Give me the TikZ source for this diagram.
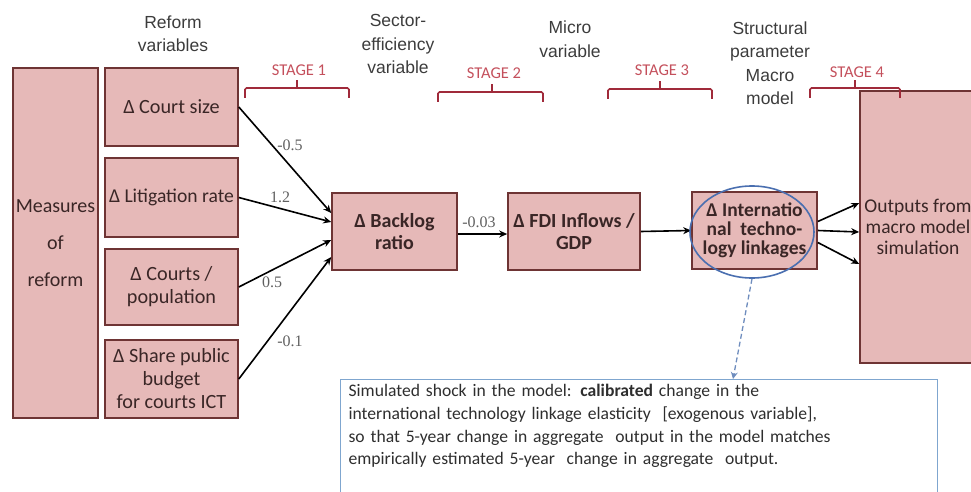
\documentclass[tikz,border=0pt]{standalone}
\usepackage{fontspec}
\setmainfont{Carlito}
\newfontfamily\headfont{Liberation Sans}
\newfontfamily\numfont{Liberation Serif}
\usetikzlibrary{arrows.meta,shapes.geometric}

\definecolor{boxfill}{HTML}{E6B9B8}
\definecolor{boxline}{HTML}{6E3434}
\definecolor{boxtext}{HTML}{3A2626}
\definecolor{headgray}{HTML}{3C3C3C}
\definecolor{stagered}{HTML}{A02A3A}
\definecolor{stagetext}{HTML}{C4505C}
\definecolor{ringblue}{HTML}{4A6FB0}
\definecolor{linkblue}{HTML}{6F8DBE}
\definecolor{notebox}{HTML}{7FA6CF}
\definecolor{notetext}{HTML}{2E2E2E}

\tikzset{
  varbox/.style={draw=boxline, fill=boxfill, line width=1.6pt, inner sep=1pt,
    text=boxtext, align=center, font=\fontsize{20.2}{23}\selectfont},
  keybox/.style={varbox, font=\bfseries\fontsize{20}{22}\selectfont},
  head/.style={text=headgray, align=center, font=\headfont\fontsize{17.5}{23.5}\selectfont},
  weight/.style={text=gray!75!black, font=\numfont\fontsize{16}{17}\selectfont, inner sep=0pt},
  flow/.style={line width=1.6pt, -{Stealth[length=8pt,width=7pt]}},
  brace/.style={draw=stagered, line width=1.6pt, rounded corners=1.5pt},
  stagelabel/.style={text=stagetext, font=\fontsize{16.5}{18}\selectfont, inner sep=0pt},
}

% horizontal stage bracket: left x, right x, bar y, tick x
\newcommand\stagebrace[4]{%
  \draw[brace] ({#1},{#3+10}) -- ({#1},{#3}) -- ({#2},{#3}) -- ({#2},{#3+10});
  \draw[brace] ({#4},{#3}) -- ({#4},{#3-8});
}

\begin{document}
\begin{tikzpicture}[x=1pt,y=-1pt]
\useasboundingbox (0,0) rectangle (971,492);

% column headings
\node[head] (hReform) at (173,34) {Reform\\variables};
\node[head] (hSector) at (398,44) {Sector-\\efficiency\\variable};
\node[head] (hMicro) at (570,39) {Micro\\variable};
\node[head] (hMacro) at (770,63) {Structural\\parameter\\Macro\\model};

% stage brackets
\stagebrace{245}{349}{88}{297}
\node[stagelabel] (s1) at (299,70) {STAGE 1};
\stagebrace{438}{543}{92}{492}
\node[stagelabel] (s2) at (494,73) {STAGE 2};
\stagebrace{608}{712}{89}{660}
\node[stagelabel] (s3) at (662,70) {STAGE 3};

% outputs box (drawn before stage 4 bracket, which overlaps it)
\node[varbox, minimum width=116pt, minimum height=272pt, font=\fontsize{19.5}{21}\selectfont,
      text depth=0pt] (out) at (918,227) {Outputs from\\macro model\\simulation};
\stagebrace{810}{900}{88}{855}
\node[stagelabel] (s4) at (857,72) {STAGE 4};

% reform measures
\node[varbox, minimum width=85pt, minimum height=350pt, font=\fontsize{20}{37}\selectfont]
  (measures) at (55.5,243) {Measures\\of\\reform};
\node[varbox, minimum width=133pt, minimum height=78pt] (court) at (171.5,107) {Δ Court size};
\node[varbox, minimum width=133pt, minimum height=79pt, font=\fontsize{19.6}{23}\selectfont]
  (litig) at (171.5,197.5) {Δ Litigation rate};
\node[varbox, minimum width=133pt, minimum height=76pt] (cpop) at (171.5,287) {Δ Courts /\\population};
\node[varbox, minimum width=133pt, minimum height=78pt] (share) at (171.5,379) {Δ Share public\\budget\\for courts ICT};

% chain of effects
\node[keybox, minimum width=125pt, minimum height=77pt] (backlog) at (394.5,231.5) {Δ Backlog\\ratio};
\node[keybox, minimum width=132pt, minimum height=77pt] (fdi) at (574,231.5) {Δ FDI Inflows /\\GDP};
\node[keybox, minimum width=125pt, minimum height=77pt, inner sep=0pt,
      font=\bfseries\fontsize{19.5}{19}\selectfont] (intl) at (754.5,230.5)
      {Δ Internatio\\nal\ \ techno-\\logy linkages};

% weighted links into the backlog ratio
\draw[flow] (court.east) -- ([yshift=18.5pt]backlog.west);
\draw[flow] (litig.east) -- ([yshift=9.5pt]backlog.west);
\draw[flow] (cpop.east) -- ([yshift=-8.5pt]backlog.west);
\draw[flow] (share.east) -- ([yshift=-25.5pt]backlog.west);
\node[weight] (w1) at (290,145) {-0.5};
\node[weight] (w2) at (280,197) {1.2};
\node[weight] (w3) at (272,282) {0.5};
\node[weight] (w4) at (290,341) {-0.1};

\draw[flow] ([yshift=-2.5pt]backlog.east) -- ([yshift=-2.5pt]fdi.west);
\node[weight] (w5) at (479,222) {-0.03};
\draw[flow] (fdi.east) -- (intl.west);

% links into the macro model
\draw[flow] ([yshift=9pt]intl.east) -- ([yshift=24pt]out.west);
\draw[flow] (intl.east) -- ([yshift=-5pt]out.west);
\draw[flow] ([yshift=-12pt]intl.east) -- ([yshift=-37pt]out.west);

% highlighted parameter and its explanation
\node[draw=ringblue, ellipse, line width=1.6pt, minimum width=124pt, minimum height=92pt]
  (ring) at (752,232) {};
\node[draw=notebox, line width=1.2pt, anchor=north west, inner xsep=8pt, inner ysep=5pt,
      minimum width=597pt, minimum height=130pt, text width=581pt, align=left, text=notetext,
      font=\fontsize{17.6}{22.6}\selectfont] (note) at (340,379)
  {Simulated shock in the model: \textbf{calibrated} change in the\\
   international technology linkage elasticity\ \ [exogenous variable],\\
   so that 5-year change in aggregate\ \ output in the model matches\\
   empirically estimated 5-year\ \ change in aggregate\ \ output.\par\vspace*{40pt}};
\coordinate (notetip) at (733,379);
\draw[draw=linkblue, line width=1.3pt, dash pattern=on 5pt off 3pt,
      -{Stealth[length=7pt,width=7pt]}] (ring.south) -- (notetip);
\end{tikzpicture}
\end{document}
